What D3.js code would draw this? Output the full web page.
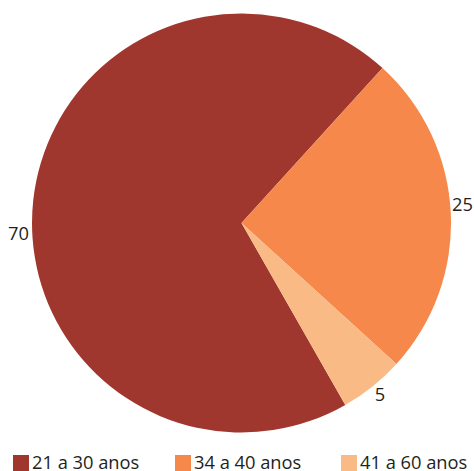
<!DOCTYPE html>
<html><head><meta charset="utf-8">
<script src="https://cdn.jsdelivr.net/npm/d3@7"></script>
<style>body{margin:0;background:#fff}svg{display:block}</style>
</head><body>
<script>
const categories = ["21 a 30 anos", "34 a 40 anos", "41 a 60 anos"];
const values = [70, 25, 5];
const colors = ["#A0372F", "#F5884A", "#F9BA85"];

const W = 474, H = 471, cx = 241.5, cy = 223, R = 209.5;
const svg = d3.select("body").append("svg").attr("width", W).attr("height", H);
const font = "'Open Sans', 'Noto Sans', sans-serif";

const startDeg = 150.3;
const pie = d3.pie().sort(null).value(d => d)
  .startAngle(startDeg * Math.PI / 180).endAngle((startDeg + 360) * Math.PI / 180);
const arcs = pie(values);
const arc = d3.arc().innerRadius(0).outerRadius(R);
const g = svg.append("g").attr("transform", `translate(${cx},${cy})`);
g.selectAll("path").data(arcs).enter().append("path")
  .attr("d", arc).attr("fill", (d, i) => colors[i]);

// labels outside (layout nudges)
const labelR = R + 11;
const nudge = [[-3.8, 41.2], [0.7, -1.6], [0.6, 5.9]];
g.selectAll("text.lab").data(arcs).enter().append("text")
  .attr("class", "lab")
  .attr("x", (d, i) => { const a = (d.startAngle + d.endAngle) / 2; return Math.sin(a) * labelR + nudge[i][0]; })
  .attr("y", (d, i) => { const a = (d.startAngle + d.endAngle) / 2; return -Math.cos(a) * labelR + nudge[i][1]; })
  .attr("text-anchor", "middle")
  .attr("font-family", font).attr("font-size", 18.3).attr("fill", "#231f20")
  .text(d => d.data);

// legend
const legX = [13, 175, 341];
const leg = svg.append("g");
categories.forEach((c, i) => {
  leg.append("rect").attr("x", legX[i]).attr("y", 455).attr("width", 16).attr("height", 16).attr("fill", colors[i]);
  leg.append("text").attr("x", legX[i] + 19).attr("y", 469)
    .attr("font-family", font).attr("font-size", 18.3).attr("fill", "#231f20").text(c);
});
</script>
</body></html>
